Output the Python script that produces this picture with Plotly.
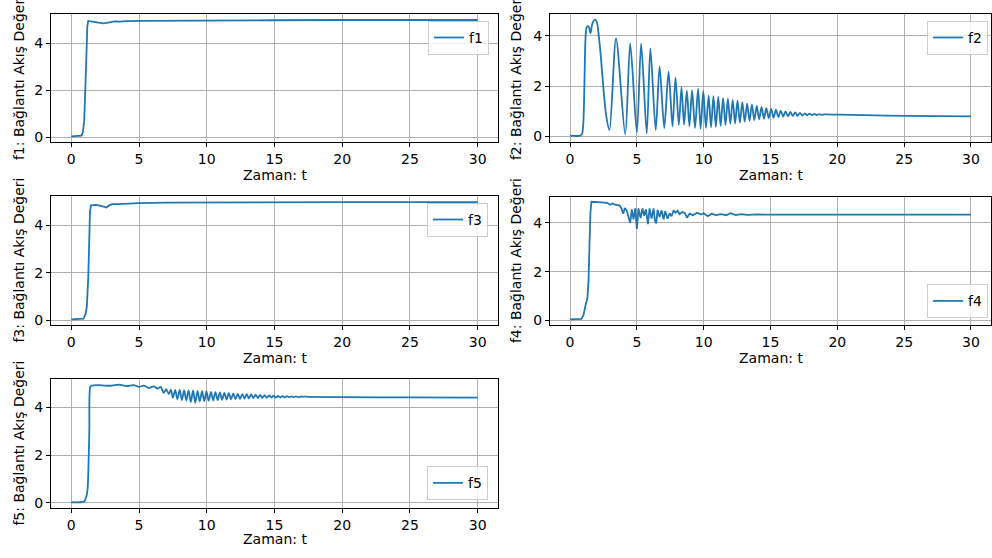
import plotly.graph_objects as go

# ---------------- data ----------------
f1_t = [0, 0.6, 0.75, 0.85, 0.95, 1.02, 1.1, 1.18, 1.25, 1.6, 2.0, 2.4, 2.8, 3.2, 3.6, 4.0, 5, 7, 10, 15, 20, 30]
f1_v = [0.03, 0.03, 0.06, 0.2, 0.7, 1.8, 3.4, 4.7, 4.95, 4.93, 4.88, 4.85, 4.9, 4.93, 4.92, 4.94, 4.95, 4.96, 4.97, 4.98, 4.99, 4.99]

f2_t = [0, 0.75, 0.9, 1.0, 1.08, 1.15, 1.25, 1.38, 1.53, 1.65, 1.85, 2.0, 2.15, 2.3, 2.5, 2.7, 2.95,
        3.44, 4.13, 4.5, 5.0, 5.32, 5.74, 6.01, 6.41, 6.7, 7.05, 7.37, 7.67, 7.89, 8.14, 8.34, 8.53,
        8.74, 8.93, 9.13, 9.35, 9.58, 9.77, 9.97, 10.17, 10.37, 10.55, 10.73, 10.91, 11.09, 11.27,
        11.45, 11.63, 11.81, 11.99, 12.17, 12.35, 12.53, 12.71, 12.89, 13.07, 13.25, 13.43, 13.61,
        13.79, 13.97, 14.15, 14.33, 14.51, 14.69, 14.87, 15.05, 15.23, 15.41, 15.59, 15.77, 15.95,
        16.13, 16.31, 16.49, 16.67, 16.85, 17.03, 17.21, 17.39, 17.57, 17.75, 17.93, 18.11, 18.29,
        18.47, 18.65, 18.83, 19.0, 20, 22, 25, 30]
f2_v = [0.03, 0.03, 0.1, 0.6, 2.2, 3.8, 4.35, 4.38, 4.1, 4.45, 4.64, 4.55, 4.0, 3.2, 1.9, 0.85, 0.25,
        3.9, 0.08, 3.7, 0.15, 3.7, 0.12, 3.5, 0.25, 2.78, 0.33, 2.58, 0.4, 2.34, 0.46, 1.96, 0.47,
        1.82, 0.41, 1.83, 0.34, 1.9, 0.3, 1.81, 0.34, 1.62, 0.36, 1.6, 0.38, 1.57, 0.42,
        1.53, 0.45, 1.5, 0.5, 1.45, 0.52, 1.42, 0.55, 1.36, 0.59, 1.3, 0.62, 1.26,
        0.65, 1.21, 0.68, 1.17, 0.71, 1.12, 0.73, 1.09, 0.75, 1.06, 0.77, 1.03, 0.79,
        1.0, 0.8, 0.98, 0.81, 0.96, 0.82, 0.94, 0.83, 0.92, 0.84, 0.91, 0.845, 0.9,
        0.85, 0.89, 0.855, 0.875, 0.865, 0.845, 0.82, 0.8]

f3_t = [0, 0.7, 0.9, 1.05, 1.15, 1.25, 1.32, 1.38, 1.45, 1.8, 2.2, 2.45, 2.6, 2.8, 3.0, 3.5, 4.0, 5, 7, 10, 15, 20, 30]
f3_v = [0.03, 0.03, 0.06, 0.25, 0.6, 1.8, 3.5, 4.6, 4.85, 4.87, 4.83, 4.78, 4.76, 4.85, 4.9, 4.9, 4.92, 4.95, 4.97, 4.98, 4.99, 4.99, 4.99]

f4_t = [0, 0.6, 0.85, 1.0, 1.1, 1.2, 1.3, 1.38, 1.45, 1.52, 1.6, 2.0, 2.4, 2.8, 3.0, 3.2, 3.4, 3.7,
        3.85, 3.98, 4.1, 4.25, 4.4, 4.5, 4.62, 4.75, 4.88, 5.0, 5.12, 5.28, 5.42, 5.55, 5.68, 5.83,
        5.95, 6.1, 6.25, 6.35, 6.45, 6.55, 6.7, 6.85, 7.0, 7.12, 7.3, 7.45, 7.6, 7.75, 7.9, 8.05,
        8.2, 8.4, 8.6, 8.75, 8.95, 9.2, 9.5, 9.8, 10.0, 10.3, 10.6, 10.9, 11.3, 11.7, 12.0, 12.4,
        12.8, 13.3, 14, 15, 20, 30]
f4_v = [0.04, 0.04, 0.06, 0.2, 0.5, 0.72, 0.9, 1.6, 3.0, 4.4, 4.87, 4.87, 4.85, 4.82, 4.75, 4.8, 4.74, 4.72,
        4.6, 4.38, 4.62, 4.5, 4.2, 4.0, 4.56, 4.15, 4.6, 3.76, 4.6, 4.2, 4.6, 4.3, 4.56, 3.95,
        4.6, 4.18, 4.6, 4.1, 3.98, 4.54, 4.25, 4.52, 4.15, 4.48, 4.18, 4.4, 4.28, 4.52, 4.42, 4.5,
        4.36, 4.45, 4.4, 4.22, 4.38, 4.32, 4.42, 4.35, 4.4, 4.28, 4.38, 4.32, 4.36, 4.32, 4.4, 4.32,
        4.36, 4.33, 4.35, 4.34, 4.34, 4.34]

f5_t = [0, 0.7, 0.95, 1.1, 1.2, 1.27, 1.33, 1.4, 1.5, 2.0, 2.5, 3.0, 3.5, 4.1, 4.6, 5.0, 5.35, 5.72,
        6.1, 6.35, 6.6, 6.82, 7.0, 7.2, 7.35, 7.5, 7.67, 7.83, 8.0, 8.16, 8.33, 8.49, 8.66, 8.82,
        8.99, 9.15, 9.32, 9.48, 9.65, 9.81, 9.98, 10.14, 10.31, 10.47, 10.64, 10.8, 10.97, 11.13,
        11.3, 11.46, 11.63, 11.79, 11.96, 12.12, 12.29, 12.45, 12.62, 12.78, 12.95, 13.11, 13.28,
        13.44, 13.61, 13.77, 13.94, 14.1, 14.27, 14.43, 14.6, 14.76, 14.93, 15.09, 15.26, 15.42,
        15.59, 15.75, 15.92, 16.08, 16.25, 16.41, 16.58, 16.74, 16.91, 17.5, 20, 25, 30]
f5_v = [0.03, 0.03, 0.06, 0.25, 0.57, 1.6, 3.07, 4.85, 4.9, 4.92, 4.9, 4.9, 4.94, 4.88, 4.92, 4.85, 4.9, 4.8,
        4.87, 4.78, 4.85, 4.6, 4.75, 4.55, 4.73, 4.39, 4.72, 4.33, 4.72, 4.3, 4.71, 4.28, 4.7, 4.22,
        4.7, 4.18, 4.68, 4.24, 4.67, 4.25, 4.66, 4.27, 4.64, 4.28, 4.63, 4.3, 4.62, 4.31,
        4.6, 4.32, 4.59, 4.33, 4.58, 4.34, 4.56, 4.35, 4.55, 4.36, 4.54, 4.37, 4.53,
        4.38, 4.52, 4.385, 4.51, 4.39, 4.5, 4.395, 4.49, 4.4, 4.48, 4.405, 4.47, 4.41,
        4.465, 4.415, 4.46, 4.42, 4.455, 4.42, 4.45, 4.425, 4.445, 4.435, 4.42, 4.41, 4.4]

names = ["f1", "f2", "f3", "f4", "f5"]
x_ticks = [0, 5, 10, 15, 20, 25, 30]
y_ticks = [0, 2, 4]
x_title = "Zaman: t"
y_title_suffix = ": Bağlantı Akış Değeri"

# ---------------- layout ----------------
W, H = 992, 558
FONT = "DejaVu Sans"
FS = 14
BLUE = "#1f77b4"

# pixel boxes (left, right, top, bottom)
boxes = [(51, 498, 14, 143), (550, 991, 14, 143),
         (51, 498, 197, 327), (550, 991, 198, 327),
         (51, 498, 381, 511)]
yranges = [[-0.22, 5.25], [-0.23, 4.87], [-0.22, 5.25], [-0.2, 5.07], [-0.22, 5.18]]
legend_pos = [(489, 21, "top"), (988, 21, "top"), (488, 204, "top"), (988, 320, "bottom"), (488, 503, "bottom")]
ytitle_x = [19, 516, 19, 516, 19]
xtitle_y = [176, 176, 360, 360, 542]
shapes_flags = ["spline" if n in ("f2", "f5") else "linear" for n in names]

series = [(f1_t, f1_v), (f2_t, f2_v), (f3_t, f3_v), (f4_t, f4_v), (f5_t, f5_v)]

fig = go.Figure()
layout = dict(width=W, height=H, margin=dict(l=0, r=0, t=0, b=0),
              paper_bgcolor="white", plot_bgcolor="white",
              font=dict(family=FONT, size=FS, color="#000"),
              showlegend=True, annotations=[])

for i, (name, (tt, vv)) in enumerate(zip(names, series)):
    k = "" if i == 0 else str(i + 1)
    lg = "legend" if i == 0 else "legend" + str(i + 1)
    fig.add_trace(go.Scatter(x=tt, y=vv, mode="lines", name=name,
                             line=dict(color=BLUE, width=1.8, shape=shapes_flags[i], smoothing=0.8),
                             xaxis="x" + k, yaxis="y" + k, legend=lg))
    l, r, t, b = boxes[i]
    common = dict(showline=True, mirror=True, linecolor="#000", linewidth=1,
                  showgrid=True, gridcolor="#b0b0b0", gridwidth=0.8, zeroline=False,
                  ticks="outside", ticklen=4, tickcolor="#000", tickwidth=1,
                  tickfont=dict(family=FONT, size=FS, color="#000"))
    layout["xaxis" + k] = dict(domain=[l / W, r / W], anchor="y" + k, range=[-1.5, 31.5],
                               tickvals=x_ticks, **common)
    layout["yaxis" + k] = dict(domain=[1 - b / H, 1 - t / H], anchor="x" + k, range=yranges[i],
                               tickvals=y_ticks, **common)
    lx, ly, anc = legend_pos[i]
    layout[lg] = dict(x=lx / W, y=1 - ly / H, xanchor="right", yanchor=anc,
                      bgcolor="rgba(255,255,255,0.8)", bordercolor="#cccccc", borderwidth=1,
                      font=dict(family=FONT, size=FS, color="#000"))
    layout["annotations"].append(dict(text=name + y_title_suffix, textangle=-90,
                                      x=ytitle_x[i] / W, y=1 - (t + b) / 2 / H,
                                      xref="paper", yref="paper", xanchor="center", yanchor="middle",
                                      showarrow=False, font=dict(family=FONT, size=FS, color="#000")))
    layout["annotations"].append(dict(text=x_title, x=(l + r) / 2 / W, y=1 - xtitle_y[i] / H,
                                      xref="paper", yref="paper", xanchor="center", yanchor="middle",
                                      showarrow=False, font=dict(family=FONT, size=FS, color="#000")))

fig.update_layout(**layout)
fig.write_html("out.html", config={"displayModeBar": False},
               post_script="document.body.style.margin='0px';document.body.style.overflow='hidden';")
